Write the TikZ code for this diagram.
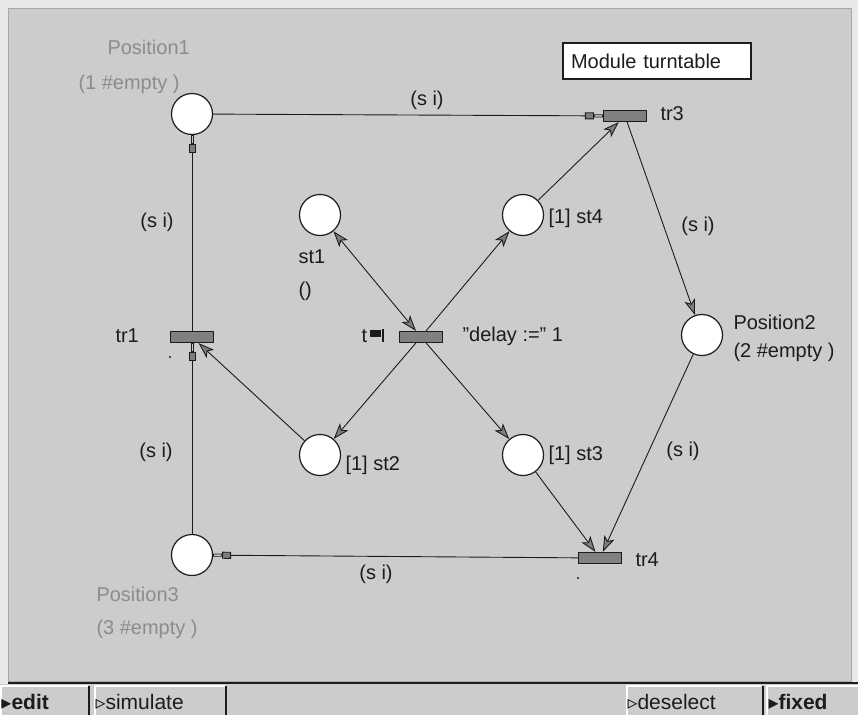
\documentclass[tikz,border=0pt]{standalone}
\usepackage{fontspec}
\setmainfont{Liberation Sans}
\newfontfamily\symfont{DejaVu Sans}
\usetikzlibrary{arrows.meta}
\definecolor{canvas}{RGB}{204,204,204}
\definecolor{winframe}{RGB}{232,232,232}
\definecolor{dimtext}{RGB}{140,140,140}
\definecolor{transfill}{RGB}{128,128,128}
\definecolor{tipfill}{RGB}{125,125,125}
\definecolor{ink}{RGB}{28,28,28}

\begin{document}
\begin{tikzpicture}[x=1pt, y=-1pt, line width=1pt, font=\fontsize{20}{24}\selectfont,
  place/.style={circle, draw=ink, fill=white, minimum size=41pt, inner sep=0pt, line width=1.2pt},
  trans/.style={rectangle, draw=ink, fill=transfill, minimum width=43pt, minimum height=11pt, inner sep=0pt, line width=1.2pt},
  txt/.style={text=ink, inner sep=0pt, anchor=west},
  dim/.style={text=dimtext, inner sep=0pt, anchor=west},
  arc/.style={draw=ink, line width=0.9pt},
  tok/.style={-{Stealth[length=16pt, width=11pt, inset=4pt, fill=tipfill]}},
  tokboth/.style={{Stealth[length=16pt, width=11pt, inset=4pt, fill=tipfill]}-{Stealth[length=16pt, width=11pt, inset=4pt, fill=tipfill]}},
  flow/.style={-{Rectangle[length=9pt, width=7pt, fill=tipfill] Rectangle[open, length=9pt, width=3pt, line width=0.7pt]}},
  barfont/.style={font=\fontsize{21}{24}\selectfont}]
  \useasboundingbox (0,0) rectangle (858,715);
  % window
  \fill[winframe] (0,0) rectangle (858,715);
  \filldraw[fill=canvas, draw=gray!70] (8,8) rectangle (851,681);
  % status bar
  \fill[canvas] (0,684) rectangle (858,715);
  \draw[ink, line width=2pt] (8,683) -- (858,683);
  \draw[white, line width=1.5pt] (1,715) -- (1,686) -- (88,686);
  \draw[white, line width=1.5pt] (95,715) -- (95,686) -- (225,686);
  \draw[white, line width=1.5pt] (627,715) -- (627,686) -- (761,686);
  \draw[white, line width=1.5pt] (767,715) -- (767,686) -- (858,686);
  \draw[ink, line width=2pt] (89,686) -- (89,715);
  \draw[ink, line width=1.5pt] (226,686) -- (226,715);
  \draw[ink, line width=2pt] (763,686) -- (763,715);
  \node[txt, barfont] (edit) at (1,702) {{\symfont\fontsize{20}{20}\selectfont ▸}\textbf{edit}};
  \node[txt, barfont] (simulate) at (95,702) {{\symfont\fontsize{20}{20}\selectfont ▹}simulate};
  \node[txt, barfont] (deselect) at (627,702) {{\symfont\fontsize{20}{20}\selectfont ▹}deselect};
  \node[txt, barfont] (fixed) at (768,702) {{\symfont\fontsize{20}{20}\selectfont ▸}\textbf{fixed}};
  % module name
  \node[draw=ink, fill=white, line width=1.2pt, minimum width=188pt, minimum height=36pt,
        text width=172pt, align=left, inner sep=0pt, text=ink] (module) at (657,61) {Module turntable};
  % places
  \node[place] (pos1) at (192,114) {};
  \node[place] (pos2) at (702,335) {};
  \node[place] (pos3) at (192,555) {};
  \node[place] (st1) at (320,215) {};
  \node[place] (st4) at (523,215) {};
  \node[place] (st2) at (320,455) {};
  \node[place] (st3) at (523,455) {};
  % transitions
  \node[trans] (tr3) at (625,116) {};
  \node[trans] (tr1) at (192,337) {};
  \node[trans] (t) at (421,337) {};
  \node[trans] (tr4) at (600,558) {};
  % arcs
  \draw[arc, flow] (pos1) -- (tr3);
  \draw[arc, tok] (tr3) -- (pos2);
  \draw[arc, tok] (pos2) -- (tr4);
  \draw[arc, flow] (tr4) -- (pos3);
  \draw[arc, flow] (pos3) -- (tr1);
  \draw[arc, flow] (tr1) -- (pos1);
  \draw[arc, tokboth] (st1) -- (t);
  \draw[arc, tok] (t) -- (st4);
  \draw[arc, tok] (t) -- (st2);
  \draw[arc, tok] (t) -- (st3);
  \draw[arc, tok] (st2) -- (tr1);
  \draw[arc, tok] (st3) -- (tr4);
  \draw[arc, tok] (st4) -- (tr3);
  % place labels
  \node[dim] (pos1name) at (107,47) {Position1};
  \node[dim] (pos1mark) at (78,84) {(1 \#empty )};
  \node[txt] (pos2name) at (733,322) {Position2};
  \node[txt] (pos2mark) at (733,352) {(2 \#empty )};
  \node[dim] (pos3name) at (96,594) {Position3};
  \node[dim] (pos3mark) at (96,629) {(3 \#empty )};
  \node[txt] (st1name) at (298,257) {st1};
  \node[txt] (st1mark) at (298,291) {()};
  \node[txt] (st4name) at (548,218) {[1] st4};
  \node[txt] (st2name) at (345,465) {[1] st2};
  \node[txt] (st3name) at (548,455) {[1] st3};
  % transition labels
  \node[txt] (tr3name) at (660,114) {tr3};
  \node[txt] (tr1name) at (115,336) {tr1};
  \node[txt] (tr4name) at (635,560) {tr4};
  \node[txt] (tname) at (361,336) {t};
  \fill[ink] (370,330) rectangle (381,337);
  \draw[ink, line width=1.2pt] (383,329) -- (383,342);
  \node[txt] (delay) at (462,336) {\char"22 delay :=\char"22\ 1};
  \fill[ink] (170,357) circle (1.2pt);
  \fill[ink] (578,578) circle (1.2pt);
  % arc inscriptions
  \node[text=ink] (si1) at (427,100) {(s i)};
  \node[text=ink] (si2) at (157,222) {(s i)};
  \node[text=ink] (si3) at (698,226) {(s i)};
  \node[text=ink] (si4) at (156,452) {(s i)};
  \node[text=ink] (si5) at (683,451) {(s i)};
  \node[text=ink] (si6) at (376,574) {(s i)};
\end{tikzpicture}
\end{document}
